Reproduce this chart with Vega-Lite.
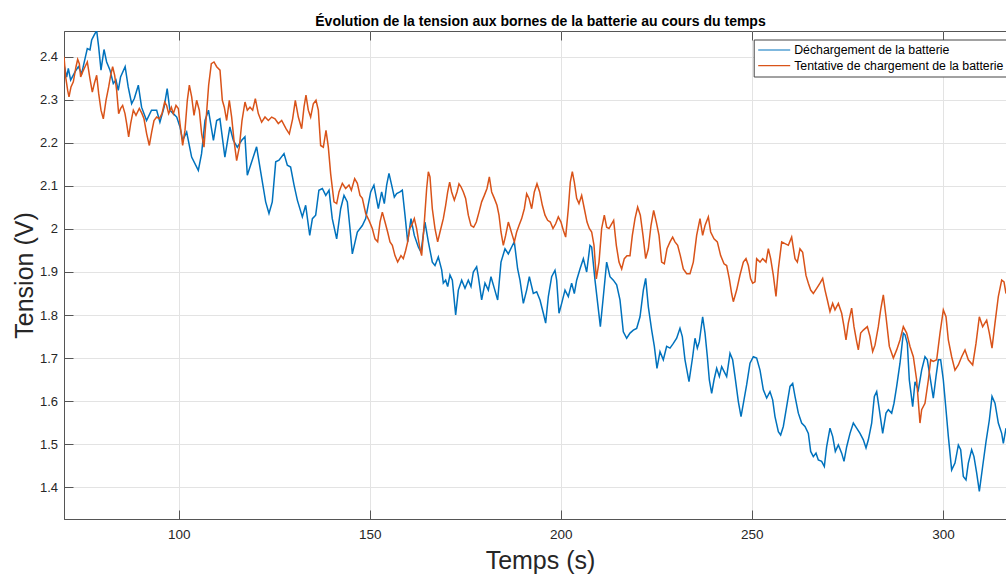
{
"$schema": "https://vega.github.io/schema/vega-lite/v6.json",
"width": 942, "height": 488,
"autosize": {"type": "none"},
"padding": {"left": 64, "top": 31, "right": 0, "bottom": 55},
"background": "white",
"title": {"text": "Évolution de la tension aux bornes de la batterie au cours du temps", "font": "Liberation Sans", "fontSize": 14, "fontWeight": "bold", "color": "#000000", "anchor": "middle", "frame": "group", "baseline": "alphabetic", "offset": -9, "dx": 5.5},
"datasets": {
"decharge": [
{"Temps":70.0,"Tension":2.381},{"Temps":70.7,"Tension":2.353},{"Temps":71.13,"Tension":2.373},{"Temps":71.74,"Tension":2.346},{"Temps":72.88,"Tension":2.365},{"Temps":73.75,"Tension":2.377},{"Temps":74.62,"Tension":2.361},{"Temps":75.5,"Tension":2.396},{"Temps":76.1,"Tension":2.419},{"Temps":76.8,"Tension":2.416},{"Temps":77.24,"Tension":2.439},{"Temps":77.85,"Tension":2.45},{"Temps":78.55,"Tension":2.461},{"Temps":79.07,"Tension":2.423},{"Temps":79.68,"Tension":2.369},{"Temps":80.47,"Tension":2.417},{"Temps":81.16,"Tension":2.388},{"Temps":82.04,"Tension":2.369},{"Temps":82.9,"Tension":2.338},{"Temps":83.6,"Tension":2.346},{"Temps":84.2,"Tension":2.322},{"Temps":84.8,"Tension":2.353},{"Temps":86.0,"Tension":2.377},{"Temps":86.8,"Tension":2.33},{"Temps":87.7,"Tension":2.291},{"Temps":88.4,"Tension":2.303},{"Temps":89.45,"Tension":2.334},{"Temps":90.3,"Tension":2.283},{"Temps":91.6,"Tension":2.252},{"Temps":92.9,"Tension":2.276},{"Temps":94.25,"Tension":2.276},{"Temps":95.1,"Tension":2.248},{"Temps":96.2,"Tension":2.283},{"Temps":97.0,"Tension":2.326},{"Temps":97.7,"Tension":2.276},{"Temps":98.6,"Tension":2.268},{"Temps":99.5,"Tension":2.26},{"Temps":100.35,"Tension":2.237},{"Temps":101.05,"Tension":2.206},{"Temps":102.1,"Tension":2.225},{"Temps":103.4,"Tension":2.167},{"Temps":105.15,"Tension":2.136},{"Temps":106.0,"Tension":2.175},{"Temps":106.9,"Tension":2.252},{"Temps":107.8,"Tension":2.276},{"Temps":109.1,"Tension":2.206},{"Temps":109.95,"Tension":2.252},{"Temps":110.8,"Tension":2.256},{"Temps":112.1,"Tension":2.167},{"Temps":113.4,"Tension":2.237},{"Temps":114.3,"Tension":2.206},{"Temps":115.35,"Tension":2.19},{"Temps":116.5,"Tension":2.206},{"Temps":117.35,"Tension":2.214},
{"Temps":117.97,"Tension":2.125},{"Temps":120.4,"Tension":2.191},{"Temps":121.46,"Tension":2.133},{"Temps":122.77,"Tension":2.063},{"Temps":123.64,"Tension":2.036},{"Temps":124.5,"Tension":2.063},{"Temps":125.4,"Tension":2.156},{"Temps":126.26,"Tension":2.16},{"Temps":127.57,"Tension":2.175},{"Temps":128.44,"Tension":2.148},{"Temps":129.3,"Tension":2.144},{"Temps":130.2,"Tension":2.102},{"Temps":131.06,"Tension":2.067},{"Temps":132.37,"Tension":2.028},{"Temps":133.24,"Tension":2.055},{"Temps":134.3,"Tension":1.985},{"Temps":135.0,"Tension":2.024},{"Temps":135.86,"Tension":2.032},{"Temps":136.7,"Tension":2.09},{"Temps":137.6,"Tension":2.094},{"Temps":138.5,"Tension":2.078},{"Temps":139.35,"Tension":2.09},{"Temps":140.2,"Tension":2.024},{"Temps":141.35,"Tension":1.977},{"Temps":142.4,"Tension":2.047},{"Temps":143.27,"Tension":2.078},{"Temps":144.14,"Tension":2.063},{"Temps":144.84,"Tension":2.001},{"Temps":145.45,"Tension":1.942},{"Temps":146.76,"Tension":1.993},{"Temps":148.07,"Tension":2.008},{"Temps":148.94,"Tension":2.024},{"Temps":150.25,"Tension":2.086},{"Temps":151.1,"Tension":2.102},
{"Temps":152.25,"Tension":2.047},{"Temps":153.12,"Tension":2.086},{"Temps":153.82,"Tension":2.059},{"Temps":154.43,"Tension":2.102},{"Temps":155.04,"Tension":2.129},{"Temps":155.74,"Tension":2.102},{"Temps":156.44,"Tension":2.074},{"Temps":157.05,"Tension":2.082},{"Temps":157.92,"Tension":2.086},{"Temps":158.53,"Tension":2.09},{"Temps":159.23,"Tension":2.032},{"Temps":159.93,"Tension":1.97},{"Temps":160.8,"Tension":2.024},{"Temps":161.67,"Tension":1.985},{"Temps":162.72,"Tension":1.958},{"Temps":163.42,"Tension":1.946},{"Temps":164.46,"Tension":2.016},{"Temps":165.34,"Tension":1.97},{"Temps":166.38,"Tension":1.923},{"Temps":167.08,"Tension":1.915},{"Temps":167.95,"Tension":1.935},{"Temps":168.83,"Tension":1.905},{"Temps":169.26,"Tension":1.874},{"Temps":169.87,"Tension":1.881},{"Temps":170.4,"Tension":1.866},{"Temps":171.0,"Tension":1.893},{"Temps":171.62,"Tension":1.881},{"Temps":172.49,"Tension":1.8},{"Temps":173.19,"Tension":1.858},{"Temps":174.06,"Tension":1.881},{"Temps":174.93,"Tension":1.862},{"Temps":175.8,"Tension":1.881},{"Temps":176.5,"Tension":1.866},{"Temps":177.11,"Tension":1.9},{"Temps":177.98,"Tension":1.912},{"Temps":178.42,"Tension":1.89},{"Temps":179.29,"Tension":1.835},{"Temps":180.16,"Tension":1.874},{"Temps":181.04,"Tension":1.858},{"Temps":181.73,"Tension":1.889},{"Temps":182.61,"Tension":1.862},{"Temps":183.48,"Tension":1.835},{"Temps":184.35,"Tension":1.923},{"Temps":185.4,"Tension":1.954},{"Temps":186.27,"Tension":1.942},{"Temps":187.14,"Tension":1.958},{"Temps":187.84,"Tension":1.97},{"Temps":188.71,"Tension":1.907},{"Temps":189.32,"Tension":1.881},{"Temps":190.2,"Tension":1.827},{"Temps":191.07,"Tension":1.858},{"Temps":191.77,"Tension":1.889},{"Temps":192.81,"Tension":1.85},{"Temps":193.69,"Tension":1.854},{"Temps":194.56,"Tension":1.835},{"Temps":195.43,"Tension":1.804},{"Temps":196.04,"Tension":1.781},{"Temps":196.74,"Tension":1.843},{"Temps":197.61,"Tension":1.889},{"Temps":198.48,"Tension":1.904},{"Temps":198.92,"Tension":1.881},{"Temps":199.53,"Tension":1.804},{"Temps":200.23,"Tension":1.827},{"Temps":201.1,"Tension":1.858},{"Temps":201.97,"Tension":1.843},{"Temps":202.84,"Tension":1.874},{"Temps":203.54,"Tension":1.85},{"Temps":204.15,"Tension":1.881},{"Temps":205.02,"Tension":1.907},{"Temps":205.9,"Tension":1.931},{"Temps":206.77,"Tension":1.9},{"Temps":207.64,"Tension":1.962},{"Temps":208.08,"Tension":1.958},{"Temps":208.95,"Tension":1.881},{"Temps":209.65,"Tension":1.827},{"Temps":210.35,"Tension":1.773},{"Temps":211.13,"Tension":1.843},{"Temps":212.0,"Tension":1.923},{"Temps":212.87,"Tension":1.889},{"Temps":213.75,"Tension":1.881},{"Temps":214.62,"Tension":1.87},{"Temps":215.49,"Tension":1.835},{"Temps":216.36,"Tension":1.761},{"Temps":217.24,"Tension":1.746},{"Temps":218.11,"Tension":1.758},{"Temps":218.98,"Tension":1.765},{"Temps":219.85,"Tension":1.769},{"Temps":220.73,"Tension":1.796},{"Temps":221.6,"Tension":1.858},{"Temps":222.21,"Tension":1.885},{"Temps":222.91,"Tension":1.819},{"Temps":223.78,"Tension":1.765},{"Temps":224.48,"Tension":1.727},{"Temps":225.17,"Tension":1.676},{"Temps":225.96,"Tension":1.715},{"Temps":226.83,"Tension":1.696},{"Temps":227.7,"Tension":1.727},{"Temps":228.58,"Tension":1.723},{"Temps":229.45,"Tension":1.734},{"Temps":230.32,"Tension":1.746},{"Temps":231.19,"Tension":1.769},{"Temps":231.8,"Tension":1.75},{"Temps":232.5,"Tension":1.696},{"Temps":233.55,"Tension":1.645},
{"Temps":234.51,"Tension":1.703},{"Temps":235.12,"Tension":1.746},{"Temps":235.73,"Tension":1.723},{"Temps":236.25,"Tension":1.738},{"Temps":237.12,"Tension":1.796},{"Temps":237.74,"Tension":1.758},{"Temps":238.35,"Tension":1.703},{"Temps":238.87,"Tension":1.649},{"Temps":239.48,"Tension":1.618},{"Temps":240.09,"Tension":1.649},{"Temps":240.79,"Tension":1.676},{"Temps":241.49,"Tension":1.657},{"Temps":242.1,"Tension":1.68},{"Temps":242.71,"Tension":1.669},{"Temps":243.4,"Tension":1.657},{"Temps":244.28,"Tension":1.711},{"Temps":244.97,"Tension":1.696},{"Temps":245.59,"Tension":1.657},{"Temps":246.46,"Tension":1.599},{"Temps":247.16,"Tension":1.564},{"Temps":247.94,"Tension":1.603},{"Temps":248.64,"Tension":1.638},{"Temps":249.51,"Tension":1.688},{"Temps":250.38,"Tension":1.703},{"Temps":251.25,"Tension":1.7},{"Temps":252.13,"Tension":1.672},{"Temps":253.0,"Tension":1.626},{"Temps":253.87,"Tension":1.607},{"Temps":254.74,"Tension":1.622},{"Temps":255.44,"Tension":1.603},{"Temps":256.05,"Tension":1.564},{"Temps":256.93,"Tension":1.529},{"Temps":257.53,"Tension":1.521},{"Temps":258.23,"Tension":1.541},{"Temps":259.1,"Tension":1.587},{"Temps":259.98,"Tension":1.634},{"Temps":260.68,"Tension":1.641},{"Temps":261.29,"Tension":1.611},{"Temps":262.16,"Tension":1.572},{"Temps":263.03,"Tension":1.549},{"Temps":263.9,"Tension":1.541},{"Temps":264.78,"Tension":1.525},{"Temps":265.39,"Tension":1.483},{"Temps":266.08,"Tension":1.471},{"Temps":266.78,"Tension":1.479},{"Temps":267.39,"Tension":1.463},{"Temps":268.26,"Tension":1.46},{"Temps":268.96,"Tension":1.448},{"Temps":269.57,"Tension":1.494},{"Temps":270.44,"Tension":1.537},{"Temps":271.14,"Tension":1.518},{"Temps":271.84,"Tension":1.483},{"Temps":272.63,"Tension":1.498},{"Temps":273.5,"Tension":1.479},{"Temps":274.11,"Tension":1.46},{"Temps":274.81,"Tension":1.494},{"Temps":275.68,"Tension":1.525},{"Temps":276.55,"Tension":1.549},{"Temps":277.42,"Tension":1.537},{"Temps":278.3,"Tension":1.525},{"Temps":279.17,"Tension":1.51},{"Temps":279.87,"Tension":1.491},{"Temps":280.48,"Tension":1.51},{"Temps":281.35,"Tension":1.549},{"Temps":282.05,"Tension":1.611},{"Temps":282.66,"Tension":1.622},{"Temps":283.35,"Tension":1.58},{"Temps":284.23,"Tension":1.525},{"Temps":285.1,"Tension":1.572},{"Temps":285.71,"Tension":1.58},{"Temps":286.58,"Tension":1.572},{"Temps":287.19,"Tension":1.595},{"Temps":287.89,"Tension":1.634},{"Temps":288.76,"Tension":1.688},{"Temps":289.63,"Tension":1.758},{"Temps":290.07,"Tension":1.754},{"Temps":290.68,"Tension":1.734},{"Temps":291.2,"Tension":1.649},{"Temps":292.08,"Tension":1.587},{"Temps":292.69,"Tension":1.645},{"Temps":293.56,"Tension":1.626},{"Temps":294.43,"Tension":1.672},{"Temps":295.3,"Tension":1.703},{"Temps":295.91,"Tension":1.696},{"Temps":296.61,"Tension":1.657},{"Temps":297.48,"Tension":1.607},{"Temps":298.18,"Tension":1.657},{"Temps":298.79,"Tension":1.696},{"Temps":299.4,"Tension":1.696},{"Temps":300.1,"Tension":1.649},{"Temps":300.8,"Tension":1.58},{"Temps":301.41,"Tension":1.518},{"Temps":302.28,"Tension":1.44},{"Temps":303.15,"Tension":1.456},{"Temps":304.03,"Tension":1.498},{"Temps":304.64,"Tension":1.487},{"Temps":305.33,"Tension":1.425},{"Temps":306.03,"Tension":1.417},{"Temps":306.64,"Tension":1.456},{"Temps":307.51,"Tension":1.487},{"Temps":308.12,"Tension":1.471},{"Temps":308.82,"Tension":1.433},{"Temps":309.52,"Tension":1.39},{"Temps":310.39,"Tension":1.448},{"Temps":311.27,"Tension":1.506},{"Temps":312.14,"Tension":1.556},{"Temps":312.84,"Tension":1.611},{"Temps":313.62,"Tension":1.595},{"Temps":314.49,"Tension":1.549},{"Temps":315.37,"Tension":1.525},{"Temps":315.8,"Tension":1.502},{"Temps":316.5,"Tension":1.537}
],
"charge": [
{"Temps":70.0,"Tension":2.4},{"Temps":70.44,"Tension":2.353},{"Temps":70.96,"Tension":2.322},{"Temps":71.31,"Tension":2.307},{"Temps":71.83,"Tension":2.33},{"Temps":72.44,"Tension":2.342},{"Temps":73.14,"Tension":2.377},{"Temps":73.58,"Tension":2.394},{"Temps":74.01,"Tension":2.384},{"Temps":74.36,"Tension":2.353},{"Temps":74.88,"Tension":2.365},{"Temps":75.5,"Tension":2.377},{"Temps":76.1,"Tension":2.388},{"Temps":76.8,"Tension":2.349},{"Temps":77.41,"Tension":2.318},{"Temps":77.94,"Tension":2.338},{"Temps":78.55,"Tension":2.357},{"Temps":79.07,"Tension":2.315},{"Temps":79.68,"Tension":2.276},{"Temps":80.29,"Tension":2.256},{"Temps":80.99,"Tension":2.299},{"Temps":81.69,"Tension":2.33},{"Temps":82.21,"Tension":2.357},{"Temps":82.73,"Tension":2.377},{"Temps":83.26,"Tension":2.357},{"Temps":83.78,"Tension":2.322},{"Temps":84.3,"Tension":2.268},{"Temps":84.83,"Tension":2.28},{"Temps":85.35,"Tension":2.287},{"Temps":85.96,"Tension":2.268},{"Temps":86.4,"Tension":2.245},{"Temps":86.92,"Tension":2.214},{"Temps":87.44,"Tension":2.245},{"Temps":88.14,"Tension":2.276},{"Temps":88.84,"Tension":2.264},{"Temps":89.71,"Tension":2.28},{"Temps":90.41,"Tension":2.268},{"Temps":90.93,"Tension":2.256},{"Temps":91.63,"Tension":2.221},{"Temps":92.33,"Tension":2.194},{"Temps":92.94,"Tension":2.225},{"Temps":93.55,"Tension":2.252},{"Temps":94.25,"Tension":2.26},{"Temps":94.95,"Tension":2.256},{"Temps":95.64,"Tension":2.268},{"Temps":96.34,"Tension":2.295},{"Temps":96.86,"Tension":2.287},{"Temps":97.39,"Tension":2.268},{"Temps":98.09,"Tension":2.283},{"Temps":98.61,"Tension":2.268},{"Temps":99.31,"Tension":2.287},{"Temps":99.92,"Tension":2.28},{"Temps":100.35,"Tension":2.245},{"Temps":101.05,"Tension":2.194},{"Temps":101.66,"Tension":2.229},{"Temps":102.27,"Tension":2.299},{"Temps":102.8,"Tension":2.334},{"Temps":103.41,"Tension":2.307},{"Temps":104.02,"Tension":2.264},{"Temps":104.71,"Tension":2.299},{"Temps":105.41,"Tension":2.276},{"Temps":106.02,"Tension":2.221},{"Temps":106.63,"Tension":2.19},{"Temps":107.16,"Tension":2.252},{"Temps":107.85,"Tension":2.334},{"Temps":108.55,"Tension":2.384},{"Temps":109.25,"Tension":2.388},{"Temps":109.95,"Tension":2.377},{"Temps":110.82,"Tension":2.369},{"Temps":111.43,"Tension":2.299},{"Temps":111.95,"Tension":2.283},{"Temps":112.56,"Tension":2.252},{"Temps":113.26,"Tension":2.299},{"Temps":113.87,"Tension":2.26},{"Temps":114.48,"Tension":2.206},{"Temps":115.18,"Tension":2.159},{"Temps":115.88,"Tension":2.19},{"Temps":116.58,"Tension":2.252},{"Temps":117.36,"Tension":2.295},{"Temps":117.97,"Tension":2.276},{"Temps":118.67,"Tension":2.283},{"Temps":119.37,"Tension":2.276},{"Temps":120.07,"Tension":2.303},{"Temps":120.85,"Tension":2.268},{"Temps":121.72,"Tension":2.248},{"Temps":122.6,"Tension":2.26},{"Temps":123.47,"Tension":2.252},{"Temps":124.34,"Tension":2.26},{"Temps":125.21,"Tension":2.256},{"Temps":126.08,"Tension":2.245},{"Temps":126.96,"Tension":2.252},{"Temps":128.09,"Tension":2.233},{"Temps":128.96,"Tension":2.221},{"Temps":129.83,"Tension":2.256},{"Temps":130.53,"Tension":2.299},{"Temps":131.32,"Tension":2.26},{"Temps":132.19,"Tension":2.233},{"Temps":132.8,"Tension":2.283},{"Temps":133.32,"Tension":2.311},{"Temps":133.93,"Tension":2.276},{"Temps":134.54,"Tension":2.26},{"Temps":135.24,"Tension":2.291},{"Temps":135.94,"Tension":2.299},{"Temps":136.55,"Tension":2.276},{"Temps":137.16,"Tension":2.194},{"Temps":137.86,"Tension":2.19},{"Temps":138.56,"Tension":2.229},{"Temps":139.17,"Tension":2.19},{"Temps":139.78,"Tension":2.128},
{"Temps":140.65,"Tension":2.063},{"Temps":141.35,"Tension":2.059},{"Temps":141.96,"Tension":2.086},{"Temps":142.83,"Tension":2.106},{"Temps":143.7,"Tension":2.094},{"Temps":144.58,"Tension":2.102},{"Temps":145.19,"Tension":2.09},{"Temps":146.06,"Tension":2.117},{"Temps":146.76,"Tension":2.106},{"Temps":147.46,"Tension":2.078},{"Temps":148.07,"Tension":2.071},{"Temps":148.94,"Tension":2.036},{"Temps":149.81,"Tension":2.02},{"Temps":150.68,"Tension":2.001},
{"Temps":151.38,"Tension":1.977},{"Temps":152.08,"Tension":1.97},{"Temps":152.69,"Tension":2.016},{"Temps":153.3,"Tension":2.039},{"Temps":154.0,"Tension":2.016},{"Temps":154.69,"Tension":1.993},{"Temps":155.31,"Tension":1.97},{"Temps":155.92,"Tension":1.962},{"Temps":156.61,"Tension":1.938},{"Temps":157.31,"Tension":1.923},{"Temps":158.18,"Tension":1.938},{"Temps":158.79,"Tension":1.931},{"Temps":159.4,"Tension":1.95},{"Temps":159.93,"Tension":1.97},{"Temps":160.45,"Tension":2.001},{"Temps":160.97,"Tension":2.008},{"Temps":161.67,"Tension":2.024},{"Temps":162.28,"Tension":2.001},{"Temps":162.98,"Tension":1.962},{"Temps":163.59,"Tension":1.938},{"Temps":164.29,"Tension":2.016},{"Temps":164.9,"Tension":2.094},{"Temps":165.34,"Tension":2.133},{"Temps":165.77,"Tension":2.121},{"Temps":166.38,"Tension":2.047},{"Temps":167.08,"Tension":2.001},{"Temps":167.78,"Tension":1.97},{"Temps":168.39,"Tension":1.993},{"Temps":169.26,"Tension":2.024},{"Temps":169.87,"Tension":2.055},{"Temps":170.4,"Tension":2.086},{"Temps":170.92,"Tension":2.109},{"Temps":171.44,"Tension":2.086},{"Temps":172.14,"Tension":2.067},{"Temps":172.84,"Tension":2.086},{"Temps":173.36,"Tension":2.105},{"Temps":173.88,"Tension":2.098},{"Temps":174.5,"Tension":2.086},{"Temps":175.1,"Tension":2.071},{"Temps":175.8,"Tension":2.032},{"Temps":176.5,"Tension":2.008},{"Temps":177.2,"Tension":2.004},{"Temps":177.9,"Tension":2.016},{"Temps":178.6,"Tension":2.039},{"Temps":179.29,"Tension":2.063},{"Temps":179.99,"Tension":2.078},{"Temps":180.69,"Tension":2.094},{"Temps":181.3,"Tension":2.121},{"Temps":181.91,"Tension":2.086},{"Temps":182.61,"Tension":2.071},{"Temps":183.3,"Tension":2.055},{"Temps":183.83,"Tension":2.032},{"Temps":184.35,"Tension":1.993},{"Temps":184.96,"Tension":1.962},{"Temps":185.57,"Tension":1.985},{"Temps":186.27,"Tension":2.016},{"Temps":186.79,"Tension":2.001},{"Temps":187.32,"Tension":1.985},{"Temps":187.84,"Tension":1.97},{"Temps":188.45,"Tension":1.993},{"Temps":189.06,"Tension":2.008},{"Temps":189.76,"Tension":2.024},{"Temps":190.46,"Tension":2.047},{"Temps":191.07,"Tension":2.082},{"Temps":191.68,"Tension":2.071},{"Temps":192.38,"Tension":2.047},{"Temps":193.07,"Tension":2.086},{"Temps":193.77,"Tension":2.105},{"Temps":194.47,"Tension":2.086},{"Temps":195.17,"Tension":2.055},{"Temps":195.87,"Tension":2.032},{"Temps":196.56,"Tension":2.02},{"Temps":197.26,"Tension":2.016},{"Temps":197.96,"Tension":2.001},{"Temps":198.66,"Tension":2.012},{"Temps":199.35,"Tension":2.028},{"Temps":200.05,"Tension":2.016},{"Temps":200.66,"Tension":1.997},{"Temps":201.27,"Tension":1.981},{"Temps":201.97,"Tension":2.047},{"Temps":202.49,"Tension":2.109},{"Temps":203.02,"Tension":2.133},{"Temps":203.54,"Tension":2.109},{"Temps":204.15,"Tension":2.071},{"Temps":204.76,"Tension":2.059},{"Temps":205.46,"Tension":2.078},{"Temps":206.16,"Tension":2.047},{"Temps":206.86,"Tension":2.016},{"Temps":207.47,"Tension":2.001},{"Temps":208.08,"Tension":1.993},{"Temps":208.69,"Tension":1.962},{"Temps":209.3,"Tension":1.884},{"Temps":210.0,"Tension":1.923},{"Temps":210.69,"Tension":2.001},{"Temps":211.39,"Tension":2.032},{"Temps":212.0,"Tension":2.004},{"Temps":212.61,"Tension":2.001},{"Temps":213.31,"Tension":2.012},{"Temps":213.83,"Tension":2.02},{"Temps":214.53,"Tension":1.962},{"Temps":215.23,"Tension":1.923},{"Temps":215.93,"Tension":1.907},{"Temps":216.62,"Tension":1.931},{"Temps":217.32,"Tension":1.938},{"Temps":218.11,"Tension":1.938},{"Temps":218.72,"Tension":1.985},{"Temps":219.42,"Tension":2.024},{"Temps":220.11,"Tension":2.051},{"Temps":220.81,"Tension":2.032},{"Temps":221.51,"Tension":1.985},{"Temps":222.21,"Tension":1.931},{"Temps":222.91,"Tension":1.954},{"Temps":223.6,"Tension":2.008},{"Temps":224.3,"Tension":2.043},{"Temps":225.0,"Tension":2.016},{"Temps":225.7,"Tension":1.985},{"Temps":226.39,"Tension":1.923},{"Temps":227.09,"Tension":1.919},{"Temps":227.79,"Tension":1.954},{"Temps":228.58,"Tension":1.97},{"Temps":229.27,"Tension":1.981},{"Temps":229.88,"Tension":1.97},{"Temps":230.58,"Tension":1.962},{"Temps":231.28,"Tension":1.938},{"Temps":232.06,"Tension":1.907},{"Temps":232.94,"Tension":1.896},{"Temps":233.81,"Tension":1.896},
{"Temps":234.68,"Tension":1.923},{"Temps":235.55,"Tension":1.985},{"Temps":236.43,"Tension":2.024},{"Temps":237.12,"Tension":1.985},{"Temps":237.74,"Tension":2.008},{"Temps":238.61,"Tension":2.028},{"Temps":239.22,"Tension":1.993},{"Temps":240.09,"Tension":1.977},{"Temps":240.96,"Tension":1.97},{"Temps":241.83,"Tension":1.938},{"Temps":242.71,"Tension":1.919},{"Temps":243.4,"Tension":1.915},{"Temps":244.1,"Tension":1.884},{"Temps":244.71,"Tension":1.85},{"Temps":245.15,"Tension":1.831},{"Temps":246.02,"Tension":1.858},{"Temps":246.89,"Tension":1.893},{"Temps":247.77,"Tension":1.923},{"Temps":248.46,"Tension":1.931},{"Temps":249.08,"Tension":1.915},{"Temps":249.68,"Tension":1.884},{"Temps":250.21,"Tension":1.874},{"Temps":250.82,"Tension":1.877},{"Temps":251.25,"Tension":1.931},{"Temps":252.13,"Tension":1.923},{"Temps":252.83,"Tension":1.931},{"Temps":253.7,"Tension":1.923},{"Temps":254.31,"Tension":1.954},{"Temps":254.92,"Tension":1.931},{"Temps":255.62,"Tension":1.892},{"Temps":256.31,"Tension":1.843},{"Temps":256.93,"Tension":1.907},{"Temps":257.8,"Tension":1.97},{"Temps":258.67,"Tension":1.966},{"Temps":259.54,"Tension":1.962},{"Temps":260.41,"Tension":1.981},{"Temps":261.29,"Tension":1.931},{"Temps":261.9,"Tension":1.923},{"Temps":262.59,"Tension":1.954},{"Temps":263.29,"Tension":1.946},{"Temps":264.16,"Tension":1.892},{"Temps":264.78,"Tension":1.874},{"Temps":265.39,"Tension":1.858},{"Temps":266.08,"Tension":1.85},{"Temps":266.96,"Tension":1.862},{"Temps":267.83,"Tension":1.874},{"Temps":268.53,"Tension":1.885},{"Temps":269.14,"Tension":1.858},{"Temps":269.75,"Tension":1.835},{"Temps":270.44,"Tension":1.808},{"Temps":271.14,"Tension":1.827},{"Temps":271.75,"Tension":1.812},{"Temps":272.63,"Tension":1.827},{"Temps":273.5,"Tension":1.804},{"Temps":274.11,"Tension":1.773},{"Temps":274.63,"Tension":1.742},{"Temps":275.24,"Tension":1.781},{"Temps":276.11,"Tension":1.816},{"Temps":276.72,"Tension":1.773},{"Temps":277.42,"Tension":1.738},{"Temps":277.86,"Tension":1.719},{"Temps":278.47,"Tension":1.758},{"Temps":279.17,"Tension":1.765},{"Temps":280.21,"Tension":1.773},{"Temps":280.91,"Tension":1.75},{"Temps":281.61,"Tension":1.715},{"Temps":282.22,"Tension":1.73},{"Temps":283.09,"Tension":1.773},{"Temps":283.7,"Tension":1.812},{"Temps":284.4,"Tension":1.847},{"Temps":285.1,"Tension":1.796},{"Temps":285.97,"Tension":1.727},{"Temps":287.02,"Tension":1.7},{"Temps":287.89,"Tension":1.719},{"Temps":288.76,"Tension":1.742},{"Temps":289.63,"Tension":1.773},{"Temps":290.51,"Tension":1.758},{"Temps":291.38,"Tension":1.727},{"Temps":292.25,"Tension":1.703},{"Temps":293.12,"Tension":1.649},{"Temps":293.99,"Tension":1.549},{"Temps":294.43,"Tension":1.58},{"Temps":295.3,"Tension":1.595},{"Temps":296.18,"Tension":1.649},{"Temps":296.79,"Tension":1.696},{"Temps":297.48,"Tension":1.692},{"Temps":298.36,"Tension":1.696},{"Temps":299.23,"Tension":1.758},{"Temps":300.1,"Tension":1.812},{"Temps":300.8,"Tension":1.796},{"Temps":301.41,"Tension":1.742},{"Temps":302.28,"Tension":1.703},{"Temps":303.15,"Tension":1.672},{"Temps":304.03,"Tension":1.684},{"Temps":304.9,"Tension":1.703},{"Temps":305.77,"Tension":1.719},{"Temps":306.64,"Tension":1.696},{"Temps":307.78,"Tension":1.684},{"Temps":308.65,"Tension":1.734},{"Temps":309.52,"Tension":1.796},{"Temps":310.39,"Tension":1.773},{"Temps":311.44,"Tension":1.788},{"Temps":312.14,"Tension":1.758},{"Temps":312.84,"Tension":1.723},{"Temps":313.62,"Tension":1.781},{"Temps":314.49,"Tension":1.843},{"Temps":315.37,"Tension":1.881},{"Temps":315.98,"Tension":1.877},{"Temps":316.5,"Tension":1.85}
]
},
"layer": [
  {
    "data": {"name": "decharge"},
    "mark": {"type": "line", "strokeWidth": 1.5, "clip": true},
    "encoding": {
      "x": {"field": "Temps", "type": "quantitative",
            "scale": {"domain": [70, 316.5], "nice": false, "zero": false},
            "axis": {"orient": "bottom", "values": [100, 150, 200, 250, 300], "title": "Temps (s)", "titleX": 476, "titleY": 49, "titleBaseline": "alphabetic", "labelPadding": 17, "labelFontSize": 13.5}},
      "y": {"field": "Tension", "type": "quantitative",
            "scale": {"domain": [1.326, 2.46], "nice": false, "zero": false},
            "axis": {"values": [1.4, 1.5, 1.6, 1.7, 1.8, 1.9, 2.0, 2.1, 2.2, 2.3, 2.4], "format": ".1~f", "title": "Tension (V)", "titleX": -32, "titleY": 244, "titleBaseline": "alphabetic", "labelPadding": 15.5, "labelFontSize": 13}},
      "color": {"datum": "Déchargement de la batterie", "type": "nominal",
                "scale": {"domain": ["Déchargement de la batterie", "Tentative de chargement de la batterie"], "range": ["#0072BD", "#D95319"]},
                "legend": {"title": null, "orient": "none", "legendX": 689.7, "legendY": 8.5, "direction": "vertical", "symbolType": "stroke", "symbolSize": 1024, "symbolStrokeWidth": 1.2, "clipHeight": 14, "rowPadding": 1.7, "padding": 3.5, "labelOffset": 3, "labelFontSize": 12.3, "labelLimit": 400, "labelFont": "Liberation Sans", "labelColor": "#000000", "fillColor": "#ffffff", "strokeColor": "#444444"}}
    }
  },
  {
    "data": {"name": "charge"},
    "mark": {"type": "line", "strokeWidth": 1.5, "clip": true},
    "encoding": {
      "x": {"field": "Temps", "type": "quantitative", "scale": {"domain": [70, 316.5], "nice": false, "zero": false}, "axis": null},
      "y": {"field": "Tension", "type": "quantitative"},
      "color": {"datum": "Tentative de chargement de la batterie", "type": "nominal"}
    }
  },
  {
    "data": {"name": "decharge"},
    "mark": {"type": "point", "opacity": 0},
    "encoding": {
      "x": {"field": "Temps", "type": "quantitative", "scale": {"domain": [70, 316.5], "nice": false, "zero": false},
            "axis": {"orient": "top", "values": [100, 150, 200, 250, 300], "labels": false, "grid": false, "title": null, "domain": false}}
    }
  }
],
"resolve": {"axis": {"x": "independent"}},
"config": {
  "font": "Liberation Sans",
  "view": {"stroke": "#555555", "strokeWidth": 1},
  "axis": {
    "labelFont": "Liberation Sans", "labelColor": "#262626",
    "titleFont": "Liberation Sans", "titleFontSize": 25, "titleFontWeight": "normal", "titleColor": "#262626",
    "gridColor": "#e3e3e3", "gridWidth": 1,
    "domainColor": "#555555", "tickColor": "#555555", "tickSize": -9, "tickWidth": 1,
    "labelOverlap": false, "labelFlush": false
  }
}
}
